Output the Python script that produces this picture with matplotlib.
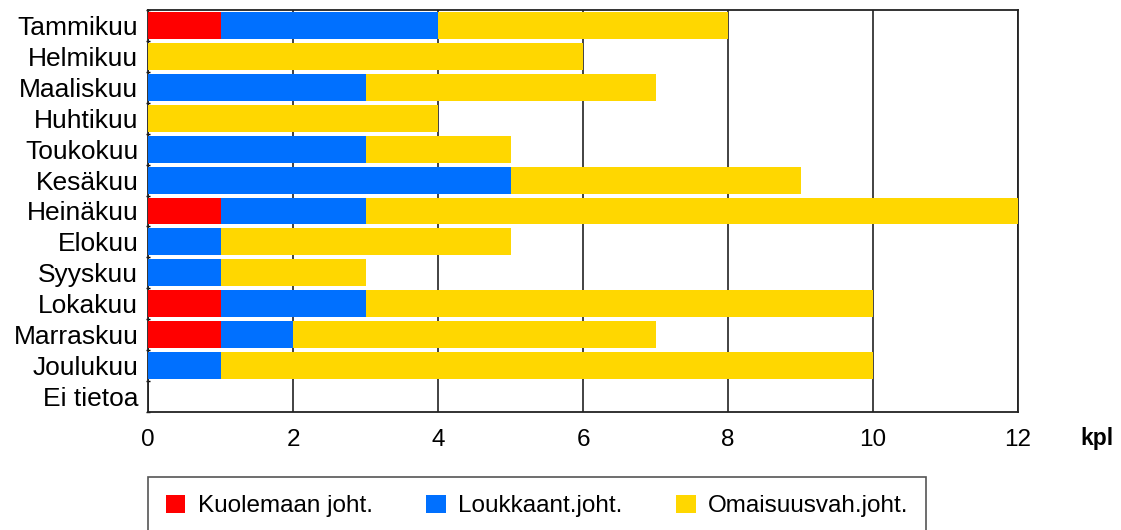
import matplotlib.pyplot as plt
import numpy as np
from matplotlib.patches import Patch

plt.rcParams['font.family'] = ['Liberation Sans', 'DejaVu Sans']

kuukaudet = ['Tammikuu', 'Helmikuu', 'Maaliskuu', 'Huhtikuu', 'Toukokuu', 'Kesäkuu',
             'Heinäkuu', 'Elokuu', 'Syyskuu', 'Lokakuu', 'Marraskuu', 'Joulukuu', 'Ei tietoa']
kuolema = [1, 0, 0, 0, 0, 0, 1, 0, 0, 1, 1, 0, 0]
loukkaant = [3, 0, 3, 0, 3, 5, 2, 1, 1, 2, 1, 1, 0]
omaisuus = [4, 6, 4, 4, 2, 4, 9, 4, 2, 7, 5, 9, 0]
sarjat = ['Kuolemaan joht.', 'Loukkaant.joht.', 'Omaisuusvah.joht.']
varit = ['#FF0000', '#0070FF', '#FFD700']

fig = plt.figure(figsize=(11.21, 5.30), dpi=100)
ax = fig.add_axes([148/1121, 1-412/530, 870/1121, 402/530])

y = np.arange(len(kuukaudet))
k = np.array(kuolema)
l = np.array(loukkaant)
o = np.array(omaisuus)
h = 0.87
ax.barh(y, k, height=h, color=varit[0], zorder=3)
ax.barh(y, l, left=k, height=h, color=varit[1], zorder=3)
ax.barh(y, o, left=k + l, height=h, color=varit[2], zorder=3)

ax.set_xlim(0, 12)
ax.set_ylim(len(kuukaudet) - 0.5, -0.5)
ax.set_xticks(np.arange(0, 13, 2))
ax.tick_params(axis='x', length=0, pad=12, labelsize=17.5)
ax.set_yticks(y, minor=True)
ax.set_yticklabels(kuukaudet, minor=True)
ax.set_yticks(np.arange(-0.5, len(kuukaudet), 1))
ax.set_yticklabels([])
ax.tick_params(axis='y', which='minor', length=0, pad=7, labelsize=19)
ax.tick_params(axis='y', which='major', length=3, direction='inout', width=1)
ax.xaxis.grid(True, color='#222222', linewidth=1.2, zorder=0)
for s in ax.spines.values():
    s.set_linewidth(1.3)
    s.set_color('#222222')

fig.text(1097/1121, 1-438/530, 'kpl', fontsize=16.5, fontweight='bold', ha='center', va='center')

handles = [Patch(facecolor=c, edgecolor='none') for c in varit]
leg = fig.legend(handles, sarjat, loc='upper left', ncol=3,
                 bbox_to_anchor=(148/1121, 1-477/530), borderaxespad=0,
                 fontsize=17.5, fancybox=False, edgecolor='#555555', framealpha=1,
                 handlelength=0.82, handleheight=0.82, borderpad=0.72,
                 handletextpad=0.5, columnspacing=2.2)
leg.get_frame().set_linewidth(1.2)

fig.savefig('out.png', dpi=100)
